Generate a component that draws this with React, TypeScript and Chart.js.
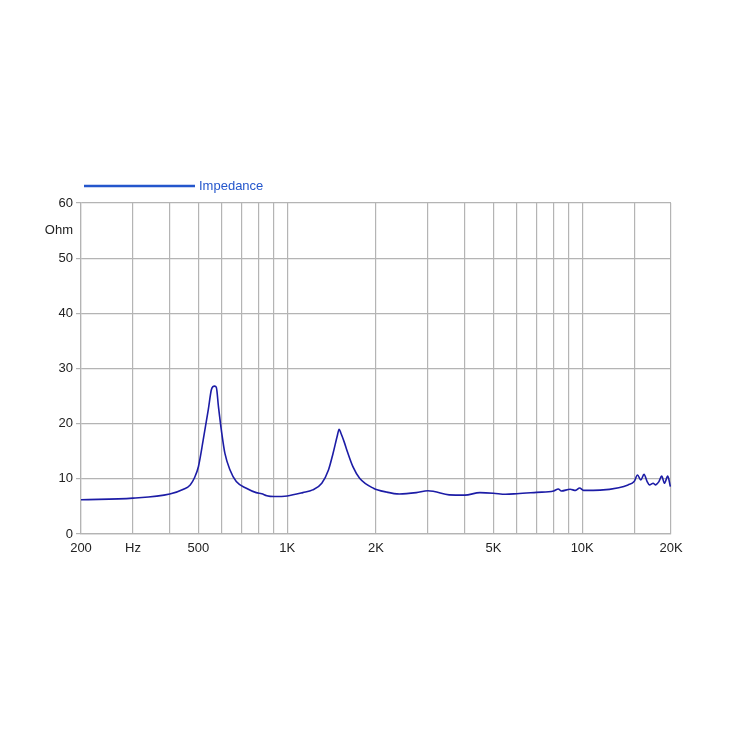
import React, { useEffect, useRef } from "react";
import { Chart, registerables } from "chart.js";

Chart.register(...registerables);

const freqs = [200, 300, 400, 445, 469, 485, 500, 519, 540, 553, 560, 568, 575, 585, 600, 615, 640, 672, 727, 785, 820, 853, 900, 1000, 1130, 1220, 1310, 1380, 1430, 1480, 1500, 1520, 1560, 1600, 1670, 1760, 1960, 2170, 2400, 2740, 3000, 3150, 3540, 4000, 4500, 5000, 5500, 6000, 7000, 8000, 8300, 8500, 9100, 9500, 9800, 10100, 11500, 13300, 14300, 15000, 15400, 15800, 16200, 16600, 16900, 17400, 17700, 18200, 18600, 19000, 19500, 19900];
const ohms = [6.2, 6.5, 7.25, 8.1, 8.9, 10.2, 12.2, 17.0, 22.5, 26.1, 26.7, 26.8, 26.6, 23.0, 18.3, 14.6, 11.6, 9.5, 8.3, 7.5, 7.3, 6.95, 6.8, 6.9, 7.5, 8.0, 9.2, 11.6, 14.6, 17.9, 19.0, 18.3, 16.7, 14.9, 12.2, 10.1, 8.3, 7.6, 7.25, 7.5, 7.85, 7.7, 7.1, 7.05, 7.5, 7.4, 7.2, 7.3, 7.55, 7.8, 8.15, 7.8, 8.1, 7.9, 8.35, 7.9, 7.95, 8.4, 8.9, 9.5, 10.7, 9.8, 10.8, 9.5, 8.9, 9.2, 8.9, 9.5, 10.5, 9.2, 10.5, 8.6];

const xTickValues = [200, 300, 400, 500, 600, 700, 800, 900, 1000, 2000, 3000, 4000, 5000, 6000, 7000, 8000, 9000, 10000, 15000, 20000];
const xTickLabels: Record<number, string> = { 200: "200", 300: "Hz", 500: "500", 1000: "1K", 2000: "2K", 5000: "5K", 10000: "10K", 20000: "20K" };
const yTickValues = [0, 10, 20, 30, 40, 50, 55, 60];
const yTickLabels: Record<number, string> = { 0: "0", 10: "10", 20: "20", 30: "30", 40: "40", 50: "50", 55: "Ohm", 60: "60" };

const seriesName = "Impedance";
const lineColor = "#1c1ca6";
const legendColor = "#2456cc";
const gridColor = "#b4b4b4";
const FONT = "'Liberation Sans', Arial, sans-serif";

const legendPlugin = {
  id: "customLegend",
  afterDraw(chart: any) {
    const { ctx, chartArea } = chart;
    const y = chartArea.top - 17;
    const x0 = chartArea.left + 3;
    ctx.save();
    ctx.strokeStyle = legendColor;
    ctx.lineWidth = 2.5;
    ctx.beginPath();
    ctx.moveTo(x0, y);
    ctx.lineTo(x0 + 111, y);
    ctx.stroke();
    ctx.fillStyle = legendColor;
    ctx.font = `13px ${FONT}`;
    ctx.textBaseline = "middle";
    ctx.textAlign = "left";
    ctx.fillText(seriesName, x0 + 115, y);
    ctx.restore();
  },
};

export default function App() {
  const ref = useRef<HTMLCanvasElement>(null);
  useEffect(() => {
    if (!ref.current) return;
    const chart = new Chart(ref.current, {
      type: "line",
      data: {
        datasets: [
          {
            label: seriesName,
            data: freqs.map((f, i) => ({ x: f, y: ohms[i] })),
            borderColor: lineColor,
            borderWidth: 1.6,
            pointRadius: 0,
            fill: false,
            cubicInterpolationMode: "monotone",
          },
        ],
      },
      options: {
        animation: false,
        responsive: false,
        layout: { padding: { left: 33, right: 54, top: 195, bottom: 161 } },
        plugins: { legend: { display: false }, tooltip: { enabled: false } },
        scales: {
          x: {
            type: "logarithmic",
            min: 200,
            max: 20000,
            afterBuildTicks: (s: any) => {
              s.ticks = xTickValues.map((v) => ({ value: v }));
            },
            afterFit: (s: any) => {
              s.height = 30;
            },
            ticks: {
              autoSkip: false,
              maxRotation: 0,
              minRotation: 0,
              color: "#222",
              font: { family: FONT, size: 13 },
              padding: 7,
              callback: (v: any) => xTickLabels[Number(v)] ?? "",
            },
            grid: { color: gridColor, lineWidth: 1.2, drawTicks: false },
            border: { color: gridColor, width: 1.2 },
          },
          y: {
            type: "linear",
            min: 0,
            max: 60,
            afterBuildTicks: (s: any) => {
              s.ticks = yTickValues.map((v) => ({ value: v }));
            },
            afterFit: (s: any) => {
              s.width = 40;
            },
            ticks: {
              autoSkip: false,
              color: "#222",
              font: { family: FONT, size: 13 },
              padding: 3,
              callback: (v: any) => yTickLabels[Number(v)] ?? "",
            },
            grid: {
              color: (c: any) => (c.tick && c.tick.value === 55 ? "rgba(0,0,0,0)" : gridColor),
              lineWidth: 1.2,
              tickLength: 5,
            },
            border: { color: gridColor, width: 1.2 },
          },
        },
      },
      plugins: [legendPlugin],
    });
    return () => chart.destroy();
  }, []);
  return (
    <div style={{ width: 717, height: 717 }}>
      <canvas ref={ref} width={717} height={717} style={{ display: "block" }} />
    </div>
  );
}
